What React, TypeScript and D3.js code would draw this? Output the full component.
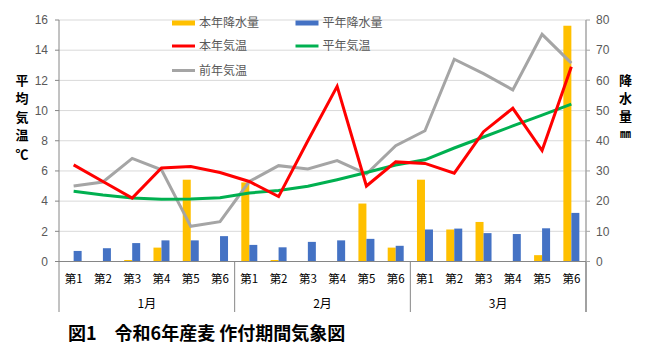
import React from "react";
import * as d3 from "d3";

const months = ["1月", "2月", "3月"];
const weeks = ["第1", "第2", "第3", "第4", "第5", "第6"];
const categories = months.flatMap((m) => weeks.map((w) => `${m}${w}`));

const precipThisYear = [0, 0, 0.5, 4.6, 27.1, 0, 26.2, 0.5, 0, 0, 19.2, 4.6, 27.1, 10.6, 13.1, 0, 2.1, 78.1];
const precipNormal = [3.5, 4.4, 6.1, 7.0, 7.0, 8.4, 5.5, 4.7, 6.5, 7.0, 7.5, 5.2, 10.6, 10.9, 9.4, 9.1, 11.0, 16.1];
const tempThisYear = [6.4, 5.3, 4.2, 6.2, 6.3, 5.9, 5.3, 4.3, 8.0, 11.6, 5.0, 6.6, 6.5, 5.85, 8.6, 10.15, 7.35, 12.9];
const tempNormal = [4.65, 4.4, 4.2, 4.12, 4.14, 4.23, 4.54, 4.7, 4.98, 5.42, 5.9, 6.39, 6.74, 7.52, 8.25, 8.98, 9.7, 10.43];
const tempLastYear = [5.0, 5.27, 6.83, 6.08, 2.33, 2.64, 5.3, 6.35, 6.13, 6.68, 5.8, 7.67, 8.66, 13.4, 12.45, 11.37, 15.05, 13.14];

const tempTicks = [0, 2, 4, 6, 8, 10, 12, 14, 16];
const precipTicks = [0, 10, 20, 30, 40, 50, 60, 70, 80];
const barSeries = ["本年降水量", "平年降水量"];
const lineSeries = ["本年気温", "平年気温", "前年気温"];
const title = "図1\u3000令和6年産麦 作付期間気象図";
const leftTitle = ["平", "均", "気", "温", "℃"];
const rightTitle = ["降", "水", "量", "㎜"];

const COLORS: Record<string, string> = {
  本年降水量: "#FFC000",
  平年降水量: "#4472C4",
  本年気温: "#FF0000",
  平年気温: "#00B050",
  前年気温: "#A5A5A5",
};

const L = 59, R = 586, T = 20, B = 261.5;
const JP = "'Noto Sans CJK JP', 'Noto Sans', sans-serif";
const NUM = "'Liberation Sans', Arial, sans-serif";

export default function App() {
  const x = d3.scaleBand<string>().domain(categories).range([L, R]).padding(0);
  const bw = x.bandwidth();
  const xi = d3.scaleBand<string>().domain(barSeries).range([0, bw]).paddingInner(0).paddingOuter(0.83);
  const yT = d3.scaleLinear().domain([0, 16]).range([B, T]);
  const yP = d3.scaleLinear().domain([0, 80]).range([B, T]);
  const cx = (i: number) => (x(categories[i]) as number) + bw / 2;
  const line = d3.line<number>().x((_, i) => cx(i)).y((d) => yT(d));

  const lines: [string, number[]][] = [
    ["前年気温", tempLastYear],
    ["平年気温", tempNormal],
    ["本年気温", tempThisYear],
  ];
  const bars: [string, number[]][] = [
    ["本年降水量", precipThisYear],
    ["平年降水量", precipNormal],
  ];

  const monthW = bw * weeks.length;
  const legend = [
    { name: "本年降水量", x: 172, y: 23, bar: true },
    { name: "平年降水量", x: 295.5, y: 23, bar: true },
    { name: "本年気温", x: 172, y: 46, bar: false },
    { name: "平年気温", x: 295.5, y: 46, bar: false },
    { name: "前年気温", x: 172, y: 70.5, bar: false },
  ];

  return (
    <svg width={647} height={356} style={{ position: "absolute", left: 0, top: 0, background: "#fff" }}>
      {/* gridlines */}
      {tempTicks.filter((t) => t > 0).map((t) => (
        <line key={t} x1={L} x2={R} y1={yT(t)} y2={yT(t)} stroke="#D9D9D9" strokeWidth={1} />
      ))}
      {/* bars */}
      {bars.map(([name, vals]) =>
        vals.map((v, i) =>
          v > 0 ? (
            <rect
              key={name + i}
              x={(x(categories[i]) as number) + (xi(name) as number)}
              y={yP(v)}
              width={xi.bandwidth()}
              height={B - yP(v)}
              fill={COLORS[name]}
            />
          ) : null
        )
      )}
      {/* lines */}
      {lines.map(([name, vals]) => (
        <path key={name} d={line(vals) as string} fill="none" stroke={COLORS[name]} strokeWidth={3} strokeLinejoin="miter" />
      ))}
      {/* axes */}
      <line x1={L} x2={L} y1={T} y2={312} stroke="#868686" />
      <line x1={R} x2={R} y1={T} y2={312} stroke="#A6A6A6" strokeWidth={1.5} />
      <line x1={L} x2={R} y1={B} y2={B} stroke="#868686" />
      {months.map((m, k) => (
        <line key={m} x1={L + monthW * (k + 1)} x2={L + monthW * (k + 1)} y1={B} y2={312} stroke="#868686" />
      ))}
      {tempTicks.map((t) => (
        <g key={"lt" + t}>
          <line x1={L - 4} x2={L} y1={yT(t)} y2={yT(t)} stroke="#868686" />
          <text x={48} y={yT(t)} dy="0.35em" textAnchor="end" fontFamily={NUM} fontSize={12} fill="#595959">{t}</text>
        </g>
      ))}
      {precipTicks.map((t) => (
        <g key={"rt" + t}>
          <line x1={R} x2={R + 4} y1={yP(t)} y2={yP(t)} stroke="#A6A6A6" />
          <text x={596} y={yP(t)} dy="0.35em" textAnchor="start" fontFamily={NUM} fontSize={12} fill="#595959">{t}</text>
        </g>
      ))}
      {/* category labels */}
      {categories.map((c, i) => (
        <text key={c} x={cx(i)} y={278.5} dy="0.35em" textAnchor="middle" fontFamily={JP} fontSize={11.5} fill="#000">
          {weeks[i % weeks.length]}
        </text>
      ))}
      {months.map((m, k) => (
        <text key={"m" + m} x={L + monthW * (k + 0.5)} y={303.5} dy="0.35em" textAnchor="middle" fontFamily={JP} fontSize={12} fill="#000">
          {m}
        </text>
      ))}
      {/* axis titles */}
      {leftTitle.map((ch, i) => (
        <text key={"lt" + i} x={22} y={80 + i * 18.5} dy="0.35em" textAnchor="middle" fontFamily={JP} fontWeight="bold" fontSize={ch === "℃" ? 13 : 13} fill="#000">
          {ch}
        </text>
      ))}
      {rightTitle.map((ch, i) => (
        <text key={"rtt" + i} x={625.5} y={80 + i * 18} dy="0.35em" textAnchor="middle" fontFamily={JP} fontWeight="bold" fontSize={ch === "㎜" ? 11 : 13} fill="#000">
          {ch}
        </text>
      ))}
      {/* legend */}
      {legend.map((l) => (
        <g key={"lg" + l.name}>
          {l.bar ? (
            <rect x={l.x} y={l.y - 2.5} width={23} height={5} fill={COLORS[l.name]} />
          ) : (
            <line x1={l.x} x2={l.x + 23} y1={l.y} y2={l.y} stroke={COLORS[l.name]} strokeWidth={3} />
          )}
          <text x={l.x + 27} y={l.y} dy="0.35em" fontFamily={JP} fontSize={12} fill="#595959">{l.name}</text>
        </g>
      ))}
      {/* title */}
      <text x={68} y={334} dy="0.35em" fontFamily={JP} fontWeight="bold" fontSize={18} fill="#000">{title}</text>
    </svg>
  );
}
